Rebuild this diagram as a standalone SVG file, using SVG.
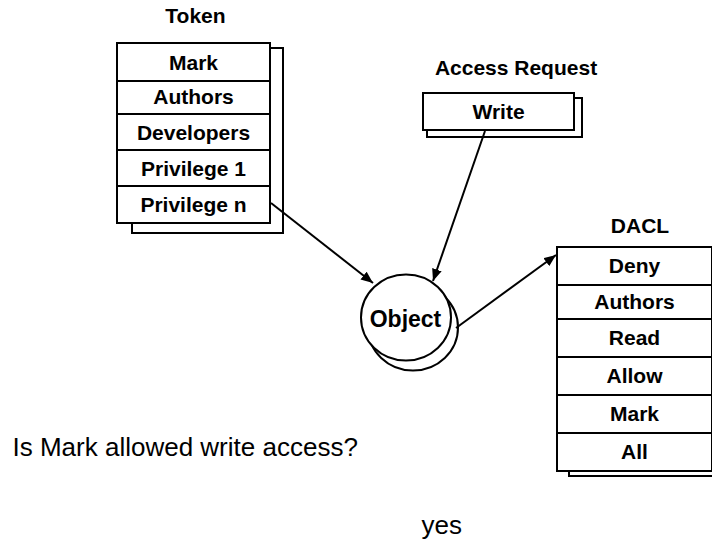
<svg xmlns="http://www.w3.org/2000/svg" width="712" height="544" viewBox="0 0 712 544">
  <style>
    .box { fill: #ffffff; stroke: #000000; stroke-width: 2; }
    .shadow { fill: #ffffff; stroke: #000000; stroke-width: 2; }
    .lbl { font-family: "Liberation Sans", Arial, sans-serif; font-weight: bold; font-size: 21px; fill: #000000; text-anchor: middle; }
    .obj { font-family: "Liberation Sans", Arial, sans-serif; font-weight: bold; font-size: 23px; fill: #000000; text-anchor: middle; }
    .plain { font-family: "Liberation Sans", Arial, sans-serif; font-size: 26px; fill: #000000; }
    .conn { stroke: #000000; stroke-width: 2; fill: none; }
  </style>
  <defs>
    <marker id="arrow" markerUnits="userSpaceOnUse" markerWidth="13" markerHeight="10" refX="12" refY="5" orient="auto">
      <path d="M0,0 L12,5 L0,10 z" fill="#000000"/>
    </marker>
  </defs>
  <rect width="712" height="544" fill="#ffffff"/>

  <g id="token">
    <text class="lbl" x="195.5" y="23">Token</text>
    <rect class="shadow" x="132" y="48" width="151" height="185"/>
    <rect class="box" x="117" y="43" width="153" height="38"/>
    <rect class="box" x="117" y="81" width="153" height="33"/>
    <rect class="box" x="117" y="114" width="153" height="36"/>
    <rect class="box" x="117" y="150" width="153" height="36"/>
    <rect class="box" x="117" y="186" width="153" height="37"/>
    <text class="lbl" x="193.5" y="69.5">Mark</text>
    <text class="lbl" x="193.5" y="104">Authors</text>
    <text class="lbl" x="193.5" y="139.5">Developers</text>
    <text class="lbl" x="193.5" y="175.5">Privilege 1</text>
    <text class="lbl" x="193.5" y="211.5">Privilege n</text>
  </g>

  <g id="access-request">
    <text class="lbl" x="516" y="75">Access Request</text>
    <rect class="shadow" x="427" y="98" width="155" height="39"/>
    <rect class="box" x="423" y="93" width="151" height="37"/>
    <text class="lbl" x="498.5" y="118.5">Write</text>
  </g>

  <g id="object">
    <ellipse class="shadow" cx="413" cy="327.5" rx="45" ry="43"/>
    <ellipse class="box" cx="406" cy="317.5" rx="45" ry="43"/>
    <text class="obj" x="405.5" y="326.5">Object</text>
  </g>

  <g id="dacl">
    <text class="lbl" x="640" y="233">DACL</text>
    <rect class="shadow" x="569" y="252" width="155" height="224"/>
    <rect class="box" x="557" y="247" width="155" height="38"/>
    <rect class="box" x="557" y="285" width="155" height="34"/>
    <rect class="box" x="557" y="319" width="155" height="38"/>
    <rect class="box" x="557" y="357" width="155" height="38"/>
    <rect class="box" x="557" y="395" width="155" height="38"/>
    <rect class="box" x="557" y="433" width="155" height="38"/>
    <text class="lbl" x="634.5" y="273">Deny</text>
    <text class="lbl" x="634.5" y="309">Authors</text>
    <text class="lbl" x="634.5" y="345">Read</text>
    <text class="lbl" x="634.5" y="383">Allow</text>
    <text class="lbl" x="634.5" y="421">Mark</text>
    <text class="lbl" x="634.5" y="459">All</text>
  </g>

  <g id="connectors">
    <line class="conn" x1="271" y1="203" x2="373" y2="283" marker-end="url(#arrow)"/>
    <line class="conn" x1="485" y1="131" x2="433" y2="281" marker-end="url(#arrow)"/>
    <line class="conn" x1="456" y1="328" x2="556" y2="255" marker-end="url(#arrow)"/>
  </g>

  <g id="notes">
    <text class="plain" x="12.5" y="456">Is Mark allowed write access?</text>
    <text class="plain" x="421.5" y="533.5">yes</text>
  </g>
</svg>
